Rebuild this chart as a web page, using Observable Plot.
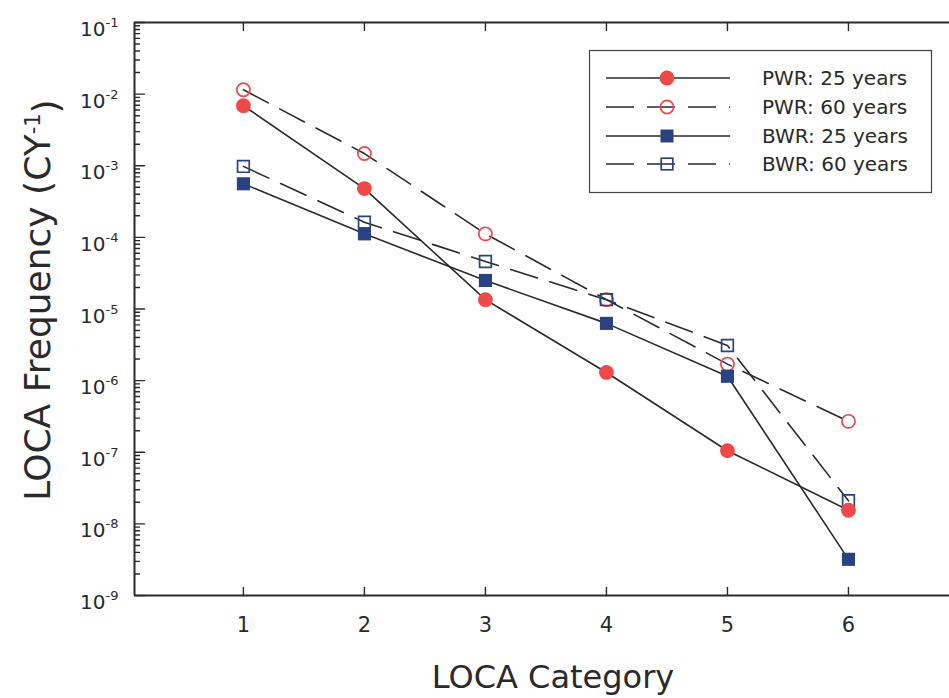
<!DOCTYPE html>
<html><head><meta charset="utf-8">
<script src="https://cdn.jsdelivr.net/npm/d3@7"></script>
<script src="https://cdn.jsdelivr.net/npm/@observablehq/plot@0.6"></script>
<style>
body{margin:0;background:#fff}
#chart svg{font-family:"DejaVu Sans",sans-serif;display:block}
</style>
</head><body><div id="chart"></div>
<script>
// ---- data ----
const categories = [1, 2, 3, 4, 5, 6];
const seriesNames = ["PWR: 25 years", "PWR: 60 years", "BWR: 25 years", "BWR: 60 years"];
const pwr25 = [6.9e-3, 4.8e-4, 1.35e-5, 1.3e-6, 1.05e-7, 1.55e-8];
const pwr60 = [1.15e-2, 1.48e-3, 1.12e-4, 1.35e-5, 1.7e-6, 2.7e-7];
const bwr25 = [5.6e-4, 1.12e-4, 2.5e-5, 6.3e-6, 1.15e-6, 3.2e-9];
const bwr60 = [9.8e-4, 1.63e-4, 4.6e-5, 1.35e-5, 3.1e-6, 2.1e-8];
const yTickExponents = [-1, -2, -3, -4, -5, -6, -7, -8, -9];
const xLabel = "LOCA Category";
const yLabelMain = "LOCA Frequency (CY";
const yLabelSup = "-1";

// ---- styling ----
const W = 949, H = 698;
const red = "#ef4848", blue = "#2a4282", ink = "#2a2a2a";
const font = '"DejaVu Sans", sans-serif';
const xDomain = [0.1, 6.835];
const yDomain = [1e-9, 1e-1];
const dash = "28,13";

const allSeries = [pwr25, pwr60, bwr25, bwr60];
const rows = [];
allSeries.forEach((vals, i) => vals.forEach((v, j) => rows.push({series: seriesNames[i], cat: categories[j], value: v})));
const of = name => rows.filter(d => d.series === name);

const yTickValues = yTickExponents.map(e => Math.pow(10, e));
const majorTicks = yTickValues;
const minorTicks = [];
for (let e = -9; e < -1; e++) for (let k = 2; k <= 9; k++) minorTicks.push(k * Math.pow(10, e));

const tickShape = {draw(context, l) { context.moveTo(0, 0); context.lineTo(0, -l); }};

const chart = Plot.plot({
  width: W, height: H,
  marginLeft: 134, marginRight: 0, marginTop: 22, marginBottom: 103,
  x: {type: "linear", domain: xDomain, label: null},
  y: {type: "log", domain: yDomain, label: null},
  style: {fontFamily: font, fontSize: "20px", color: ink, background: "white", overflow: "visible"},
  marks: [
    Plot.ruleX([xDomain[0]], {stroke: ink, strokeWidth: 2}),
    Plot.ruleY(yDomain, {stroke: ink, strokeWidth: 2}),
    Plot.vector(majorTicks, {x: () => xDomain[0], y: d => d, length: 10, rotate: 90, anchor: "start", shape: tickShape, stroke: ink, strokeWidth: 1.4}),
    Plot.vector(minorTicks, {x: () => xDomain[0], y: d => d, length: 5, rotate: 90, anchor: "start", shape: tickShape, stroke: ink, strokeWidth: 1.4}),
    Plot.vector(categories, {x: d => d, y: () => yDomain[0], length: 8, rotate: 0, anchor: "start", shape: tickShape, stroke: ink, strokeWidth: 1.4}),
    Plot.vector(categories, {x: d => d, y: () => yDomain[1], length: 8, rotate: 180, anchor: "start", shape: tickShape, stroke: ink, strokeWidth: 1.4}),
    // lines
    Plot.line(of(seriesNames[0]), {x: "cat", y: "value", stroke: ink, strokeWidth: 1.6}),
    Plot.line(of(seriesNames[1]), {x: "cat", y: "value", stroke: ink, strokeWidth: 1.6, strokeDasharray: dash}),
    Plot.line(of(seriesNames[2]), {x: "cat", y: "value", stroke: ink, strokeWidth: 1.6}),
    Plot.line(of(seriesNames[3]), {x: "cat", y: "value", stroke: ink, strokeWidth: 1.6, strokeDasharray: dash}),
    // open markers
    Plot.dot(of(seriesNames[1]), {x: "cat", y: "value", r: 6.6, symbol: "circle", fill: "none", stroke: red, strokeWidth: 1.7}),
    Plot.dot(of(seriesNames[3]), {x: "cat", y: "value", r: 6.6, symbol: "square", fill: "none", stroke: blue, strokeWidth: 1.7}),
    // filled markers
    Plot.dot(of(seriesNames[0]), {x: "cat", y: "value", r: 7.4, symbol: "circle", fill: red, stroke: "none"}),
    Plot.dot(of(seriesNames[2]), {x: "cat", y: "value", r: 7.4, symbol: "square", fill: blue, stroke: "none"}),
    // axes
    Plot.axisY({ticks: yTickValues, tickSize: 0, tickPadding: 16, tickFormat: d => "10^" + Math.round(Math.log10(d)), label: null}),
    Plot.axisX({ticks: categories, tickSize: 0, tickPadding: 22, tickFormat: d => String(d), label: null})
  ]
});

document.getElementById("chart").appendChild(chart);
const svg = d3.select(chart);

// tick label sizes (set on each text element)
svg.selectAll('[aria-label="y-axis tick label"] text')
  .attr("font-size", null).style("font-size", "20px").style("font-family", font);
svg.selectAll('[aria-label="x-axis tick label"] text')
  .attr("font-size", null).style("font-size", "21px").style("font-family", font);

// superscripts on y tick labels
svg.selectAll('[aria-label="y-axis tick label"] text').each(function() {
  const t = d3.select(this);
  const s = t.text();
  const parts = s.split("^");
  if (parts.length === 2) {
    t.text(parts[0]);
    t.attr("dy", "0.36em");
    t.append("tspan").attr("dy", "-9").style("font-size", "13px").text(parts[1]);
  }
});

// axis titles
svg.append("text")
  .attr("x", 553).attr("y", 688)
  .attr("text-anchor", "middle")
  .style("font-size", "32px").style("font-family", font).attr("fill", ink)
  .text(xLabel);

const yl = svg.append("text")
  .attr("transform", "translate(50,300) rotate(-90)")
  .attr("text-anchor", "middle")
  .style("font-size", "36px").style("font-family", font).attr("fill", ink);
yl.append("tspan").text(yLabelMain);
yl.append("tspan").attr("dy", "-0.5em").style("font-size", "21px").text(yLabelSup);
yl.append("tspan").attr("dy", "0.5em").text(")");

// legend
const lg = svg.append("g");
lg.append("rect").attr("x", 589.5).attr("y", 50.5).attr("width", 342).attr("height", 142)
  .attr("fill", "white").attr("stroke", "#444").attr("stroke-width", 1.2);
const rowY = [78, 107, 136, 164];
seriesNames.forEach((name, i) => {
  const y = rowY[i];
  const dashed = i % 2 === 1;
  const color = i < 2 ? red : blue;
  lg.append("line").attr("x1", 606).attr("x2", 730).attr("y1", y).attr("y2", y)
    .attr("stroke", ink).attr("stroke-width", 1.6).attr("stroke-dasharray", dashed ? dash : null);
  const filled = !dashed;
  if (i < 2) {
    lg.append("circle").attr("cx", 667).attr("cy", y).attr("r", filled ? 7.4 : 6.6)
      .attr("fill", filled ? color : "none").attr("stroke", filled ? "none" : color).attr("stroke-width", 1.7);
  } else {
    const s = filled ? 13 : 11.6;
    lg.append("rect").attr("x", 667 - s / 2).attr("y", y - s / 2).attr("width", s).attr("height", s)
      .attr("fill", filled ? color : "none").attr("stroke", filled ? "none" : color).attr("stroke-width", 1.7);
  }
  lg.append("text").attr("x", 762).attr("y", y).attr("dy", "0.36em")
    .attr("text-anchor", "start")
    .style("font-size", "20px").style("font-family", font).attr("fill", ink).text(name);
});
</script>
</body></html>
